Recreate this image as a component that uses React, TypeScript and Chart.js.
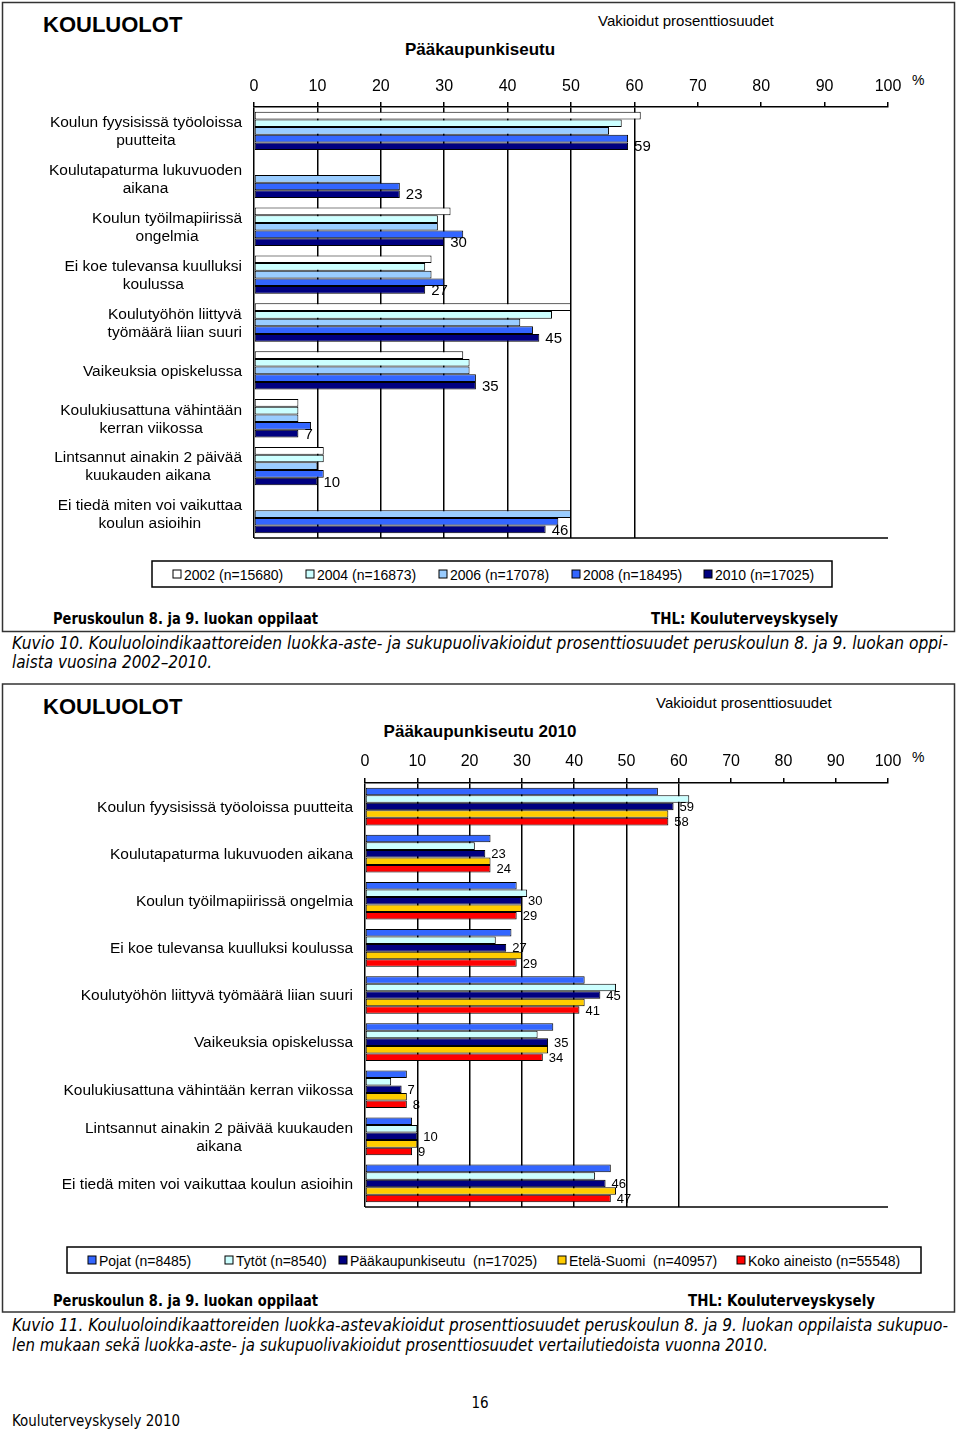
import React, { useEffect, useRef } from 'react';
import { Chart, registerables } from 'chart.js';
Chart.register(...registerables);

const FONT = '"Liberation Sans", Arial, sans-serif';
const NARROW = '"Liberation Sans Narrow", "DejaVu Sans Condensed", "Liberation Sans", Arial, sans-serif';

// ---------- Chart 1 (Pääkaupunkiseutu 2002–2010) ----------
const categories1: string[][] = [
  ['Koulun fyysisissä työoloissa', 'puutteita'],
  ['Koulutapaturma lukuvuoden', 'aikana'],
  ['Koulun työilmapiirissä', 'ongelmia'],
  ['Ei koe tulevansa kuulluksi', 'koulussa'],
  ['Koulutyöhön liittyvä', 'työmäärä liian suuri'],
  ['Vaikeuksia opiskelussa'],
  ['Koulukiusattuna vähintään', 'kerran viikossa'],
  ['Lintsannut ainakin 2 päivää', 'kuukauden aikana'],
  ['Ei tiedä miten voi vaikuttaa', 'koulun asioihin'],
];
const seriesNames1 = ['2002 (n=15680)', '2004 (n=16873)', '2006 (n=17078)', '2008 (n=18495)', '2010 (n=17025)'];
const values2002 = [61, null, 31, 28, 50, 33, 7, 11, null];
const values2004 = [58, null, 29, 27, 47, 34, 7, 11, null];
const values2006 = [56, 20, 29, 28, 42, 34, 7, 10, 50];
const values2008 = [59, 23, 33, 30, 44, 35, 9, 11, 48];
const values2010 = [59, 23, 30, 27, 45, 35, 7, 10, 46];
const colors1 = ['#ffffff', '#ccffff', '#99ccff', '#3366ff', '#000080'];

// ---------- Chart 2 (Pääkaupunkiseutu 2010 vs. comparison) ----------
const categories2: string[][] = [
  ['Koulun fyysisissä työoloissa puutteita'],
  ['Koulutapaturma lukuvuoden aikana'],
  ['Koulun työilmapiirissä ongelmia'],
  ['Ei koe tulevansa kuulluksi koulussa'],
  ['Koulutyöhön liittyvä työmäärä liian suuri'],
  ['Vaikeuksia opiskelussa'],
  ['Koulukiusattuna vähintään kerran viikossa'],
  ['Lintsannut ainakin 2 päivää kuukauden', 'aikana'],
  ['Ei tiedä miten voi vaikuttaa koulun asioihin'],
];
const seriesNames2 = ['Pojat (n=8485)', 'Tytöt (n=8540)', 'Pääkaupunkiseutu  (n=17025)', 'Etelä-Suomi  (n=40957)', 'Koko aineisto (n=55548)'];
const pojat = [56, 24, 29, 28, 42, 36, 8, 9, 47];
const tytot = [62, 21, 31, 25, 48, 33, 5, 10, 44];
const paakaupunkiseutu = [59, 23, 30, 27, 45, 35, 7, 10, 46];
const etelaSuomi = [58, 24, 30, 30, 42, 35, 8, 10, 48];
const kokoAineisto = [58, 24, 29, 29, 41, 34, 8, 9, 47];
const colors2 = ['#3366ff', '#ccffff', '#000080', '#ffcc00', '#ff0000'];

const axisTicks = [0, 10, 20, 30, 40, 50, 60, 70, 80, 90, 100];

type PanelProps = {
  top: number;
  height: number;
  labels: string[][];
  names: string[];
  series: (number | null)[][];
  colors: string[];
  padLeft: number;
  padRight: number;
  padBottom: number;
  axisHeight: number;
  tickPad: number;
  labelRight: number;
  labelFont: string;
  lineHeight: number;
  valueLabelSets: number[];
  valueFont: string;
};

function BarPanel(p: PanelProps) {
  const ref = useRef<HTMLCanvasElement>(null);
  useEffect(() => {
    const canvas = ref.current!;
    const yLabels = {
      id: 'yLabels',
      afterDraw(chart: any) {
        const ctx = chart.ctx;
        const ys = chart.scales.y;
        const a = chart.chartArea;
        ctx.save();
        ctx.font = p.labelFont;
        ctx.fillStyle = '#000';
        ctx.textAlign = 'center';
        ctx.textBaseline = 'middle';
        p.labels.forEach((lines, i) => {
          const w = Math.max(...lines.map((l) => ctx.measureText(l).width));
          const cx = p.labelRight - w / 2;
          const cy = ys.getPixelForValue(i);
          lines.forEach((l, j) => {
            ctx.fillText(l, cx, cy + (j - (lines.length - 1) / 2) * p.lineHeight + 1);
          });
        });
        ctx.strokeStyle = '#000';
        ctx.lineWidth = 1.5;
        ctx.beginPath();
        const yb = Math.round(a.bottom);
        ctx.moveTo(a.left, yb);
        ctx.lineTo(a.right, yb);
        ctx.stroke();
        ctx.restore();
      },
    };
    const valueLabels = {
      id: 'valueLabels',
      afterDatasetsDraw(chart: any) {
        const ctx = chart.ctx;
        ctx.save();
        ctx.font = p.valueFont;
        ctx.fillStyle = '#000';
        ctx.textAlign = 'left';
        ctx.textBaseline = 'middle';
        p.valueLabelSets.forEach((di) => {
          const meta = chart.getDatasetMeta(di);
          meta.data.forEach((el: any, i: number) => {
            const v = p.series[di][i];
            if (v == null) return;
            ctx.fillText(String(v), el.x + 6, el.y + 1);
          });
        });
        ctx.restore();
      },
    };
    const chart = new Chart(canvas, {
      type: 'bar',
      data: {
        labels: p.labels.map((l) => l.join(' ')),
        datasets: p.series.map((s, i) => ({
          label: p.names[i],
          data: s as any,
          backgroundColor: p.colors[i],
          borderColor: '#000',
          borderWidth: 1,
          borderSkipped: false,
          barPercentage: 1,
          categoryPercentage: 0.8,
        })),
      },
      options: {
        indexAxis: 'y',
        responsive: false,
        animation: false,
        devicePixelRatio: 1,
        layout: { padding: { left: p.padLeft, right: p.padRight, bottom: p.padBottom, top: 0 } },
        plugins: { legend: { display: false }, tooltip: { enabled: false } },
        scales: {
          x: {
            position: 'top',
            min: 0,
            max: 100,
            afterBuildTicks: (scale: any) => {
              scale.ticks = axisTicks.map((v) => ({ value: v }));
            },
            afterFit: (scale: any) => {
              scale.height = p.axisHeight;
            },
            ticks: {
              color: '#000',
              font: { family: FONT, size: 16 },
              padding: p.tickPad,
              maxRotation: 0,
              autoSkip: false,
            },
            grid: {
              color: (c: any) => (c.tick && c.tick.value <= 60 ? '#000' : 'rgba(0,0,0,0)'),
              tickColor: '#000',
              lineWidth: 1.5,
              tickLength: 5,
              drawTicks: true,
            },
            border: { display: true, color: '#000', width: 1.5 },
          },
          y: { display: false },
        },
      },
      plugins: [yLabels, valueLabels],
    });
    return () => chart.destroy();
  }, []);
  return (
    <canvas
      ref={ref}
      width={955}
      height={p.height}
      style={{ position: 'absolute', left: 0, top: p.top, width: 955, height: p.height }}
    />
  );
}

type TxtProps = {
  x: number;
  y: number;
  size: number;
  bold?: boolean;
  italic?: boolean;
  anchor?: 'start' | 'middle' | 'end';
  len?: number;
  family?: string;
  children: React.ReactNode;
};
function Txt({ x, y, size, bold, italic, anchor = 'start', len, family = FONT, children }: TxtProps) {
  return (
    <text
      x={x}
      y={y}
      fontSize={size}
      fontWeight={bold ? 'bold' : 'normal'}
      fontStyle={italic ? 'italic' : 'normal'}
      textAnchor={anchor}
      dominantBaseline="central"
      fontFamily={family}
      fill="#000"
      style={{ whiteSpace: 'pre' }}
      {...(len ? { textLength: len, lengthAdjust: 'spacingAndGlyphs' } : {})}
    >
      {children}
    </text>
  );
}

function Legend({ x, y, w, h, names, colors, sq, tx }: { x: number; y: number; w: number; h: number; names: string[]; colors: string[]; sq: number[]; tx: number[] }) {
  const cy = y + h / 2;
  return (
    <g>
      <rect x={x} y={y} width={w} height={h} fill="#fff" stroke="#000" strokeWidth={1.5} />
      {names.map((n, i) => (
        <g key={n}>
          <rect x={sq[i]} y={cy - 4} width={8} height={8} fill={colors[i]} stroke="#000" strokeWidth={1} />
          <Txt x={tx[i]} y={cy + 1} size={14}>{n}</Txt>
        </g>
      ))}
    </g>
  );
}

export default function App() {
  return (
    <div style={{ position: 'absolute', left: 0, top: 0, width: 960, height: 1433, background: '#fff', overflow: 'hidden' }}>
      <svg width={960} height={1433} style={{ position: 'absolute', left: 0, top: 0 }}>
        {/* frames */}
        <rect x={2.5} y={2.5} width={952} height={629} fill="none" stroke="#333" strokeWidth={1.5} />
        <rect x={2.5} y={684} width={952} height={628} fill="none" stroke="#333" strokeWidth={1.5} />

        {/* chart 1 headings */}
        <Txt x={43} y={24} size={22} bold>KOULUOLOT</Txt>
        <Txt x={480} y={49} size={17} bold anchor="middle">Pääkaupunkiseutu</Txt>
        <Txt x={598} y={20} size={15}>Vakioidut prosenttiosuudet</Txt>
        <Txt x={912} y={80} size={14}>%</Txt>
        <Legend x={152} y={561} w={680} h={26} names={seriesNames1} colors={colors1}
          sq={[173, 306, 439, 572, 704]} tx={[184, 317, 450, 583, 715]} />
        <Txt x={53} y={618} size={16} bold family={NARROW} len={265}>Peruskoulun 8. ja 9. luokan oppilaat</Txt>
        <Txt x={651} y={618} size={16} bold family={NARROW} len={187}>THL: Kouluterveyskysely</Txt>
        <Txt x={12} y={643} size={17} italic family={NARROW} len={936}>Kuvio 10. Kouluoloindikaattoreiden luokka-aste- ja sukupuolivakioidut prosenttiosuudet peruskoulun 8. ja 9. luokan oppi-</Txt>
        <Txt x={12} y={662} size={17} italic family={NARROW} len={200}>laista vuosina 2002–2010.</Txt>

        {/* chart 2 headings */}
        <Txt x={43} y={706} size={22} bold>KOULUOLOT</Txt>
        <Txt x={480} y={731} size={17} bold anchor="middle">Pääkaupunkiseutu 2010</Txt>
        <Txt x={656} y={702} size={15}>Vakioidut prosenttiosuudet</Txt>
        <Txt x={912} y={757} size={14}>%</Txt>
        <Legend x={67} y={1247} w={854} h={26} names={seriesNames2} colors={colors2}
          sq={[88, 225, 339, 558, 737]} tx={[99, 236, 350, 569, 748]} />
        <Txt x={53} y={1300} size={16} bold family={NARROW} len={265}>Peruskoulun 8. ja 9. luokan oppilaat</Txt>
        <Txt x={688} y={1300} size={16} bold family={NARROW} len={187}>THL: Kouluterveyskysely</Txt>
        <Txt x={12} y={1325} size={17} italic family={NARROW} len={936}>Kuvio 11. Kouluoloindikaattoreiden luokka-astevakioidut prosenttiosuudet peruskoulun 8. ja 9. luokan oppilaista sukupuo-</Txt>
        <Txt x={12} y={1345} size={17} italic family={NARROW} len={756}>len mukaan sekä luokka-aste- ja sukupuolivakioidut prosenttiosuudet vertailutiedoista vuonna 2010.</Txt>

        {/* page footer */}
        <Txt x={480} y={1403} size={15} anchor="middle" family={NARROW}>16</Txt>
        <Txt x={12} y={1421} size={15} family={NARROW} len={168}>Kouluterveyskysely 2010</Txt>
      </svg>

      <BarPanel
        top={60}
        height={490}
        labels={categories1}
        names={seriesNames1}
        series={[values2002, values2004, values2006, values2008, values2010]}
        colors={colors1}
        padLeft={254}
        padRight={67}
        padBottom={12}
        axisHeight={47}
        tickPad={6}
        labelRight={242}
        labelFont={'15.5px ' + FONT}
        lineHeight={18}
        valueLabelSets={[4]}
        valueFont={'15px ' + FONT}
      />
      <BarPanel
        top={740}
        height={480}
        labels={categories2}
        names={seriesNames2}
        series={[pojat, tytot, paakaupunkiseutu, etelaSuomi, kokoAineisto]}
        colors={colors2}
        padLeft={365}
        padRight={67}
        padBottom={13}
        axisHeight={43}
        tickPad={7}
        labelRight={353}
        labelFont={'15.5px ' + FONT}
        lineHeight={18}
        valueLabelSets={[2, 4]}
        valueFont={'13px ' + FONT}
      />
    </div>
  );
}
